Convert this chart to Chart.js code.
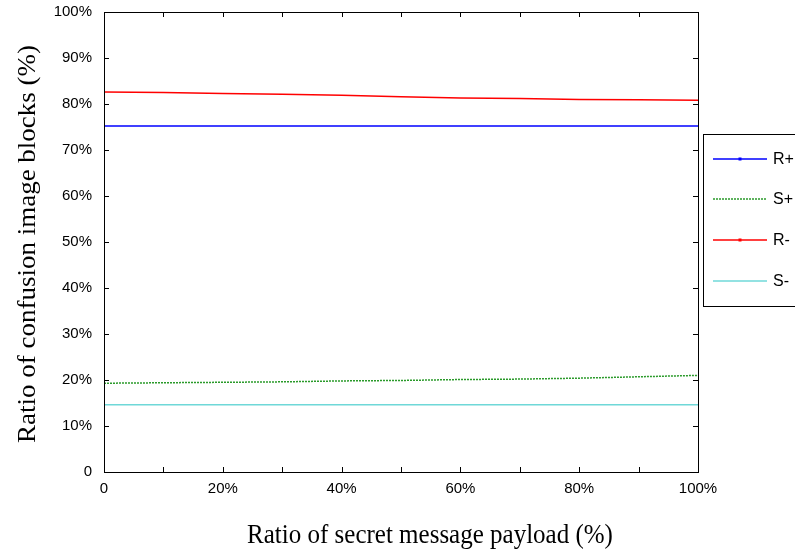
<!DOCTYPE html>
<html>
<head>
<meta charset="utf-8">
<script src="https://cdn.jsdelivr.net/npm/chart.js@4"></script>
<style>
  html, body { margin: 0; padding: 0; background: #fff; }
  #wrap { width: 795px; height: 551px; }
</style>
</head>
<body>
<div id="wrap"><canvas id="chart" width="795" height="551"></canvas></div>
<script>
// x: ratio of secret message payload (%)
var payload = [0, 10, 20, 30, 40, 50, 60, 70, 80, 90, 100];
// y: ratio of confusion image blocks (%)
var rPlus  = [75.2, 75.2, 75.2, 75.2, 75.2, 75.2, 75.2, 75.2, 75.2, 75.2, 75.2];
var sPlus  = [19.3, 19.4, 19.5, 19.6, 19.8, 19.9, 20.1, 20.2, 20.4, 20.7, 21.0];
var rMinus = [82.6, 82.5, 82.3, 82.1, 81.9, 81.6, 81.3, 81.2, 81.0, 80.9, 80.8];
var sMinus = [14.6, 14.6, 14.6, 14.6, 14.6, 14.6, 14.6, 14.6, 14.6, 14.6, 14.6];
var seriesNames = ['R+', 'S+', 'R-', 'S-'];
var seriesColors = ['#0000ff', '#2a9a2a', '#ff0000', '#6fd8d8'];
var xTitle = 'Ratio of secret message payload (%)';
var yTitle = 'Ratio of confusion image blocks (%)';

var tickFont = '"Liberation Sans", Arial, sans-serif';
var serif = '"Liberation Serif", "Times New Roman", serif';

function toPoints(ys) {
    return payload.map(function(x, i) { return { x: x, y: ys[i] }; });
}

// Box around plot area + inward tick marks on all four sides, axis titles
var boxTicks = {
    id: 'boxTicks',
    afterDraw: function(chart) {
        var ctx = chart.ctx;
        var a = chart.chartArea;
        var xs = chart.scales.x, ys = chart.scales.y;
        ctx.save();
        ctx.strokeStyle = '#000';
        ctx.lineWidth = 1;
        ctx.strokeRect(a.left + 0.5, a.top + 0.5, a.right - a.left, a.bottom - a.top);
        ctx.beginPath();
        xs.ticks.forEach(function(t) {
            var px = Math.round(xs.getPixelForValue(t.value)) + 0.5;
            ctx.moveTo(px, a.bottom); ctx.lineTo(px, a.bottom - 5);
            ctx.moveTo(px, a.top); ctx.lineTo(px, a.top + 5);
        });
        ys.ticks.forEach(function(t) {
            var py = Math.round(ys.getPixelForValue(t.value)) + 0.5;
            ctx.moveTo(a.left, py); ctx.lineTo(a.left + 5, py);
            ctx.moveTo(a.right, py); ctx.lineTo(a.right - 5, py);
        });
        ctx.stroke();
        ctx.restore();

        // axis titles (the source figure is slightly stretched vertically)
        ctx.save();
        ctx.fillStyle = '#000';
        ctx.textAlign = 'center';
        ctx.textBaseline = 'alphabetic';
        ctx.font = '25px ' + serif;
        ctx.translate((a.left + a.right) / 2 + 29, 543);
        ctx.scale(1, 1.12);
        ctx.fillText(xTitle, 0, 0);
        ctx.restore();

        ctx.save();
        ctx.fillStyle = '#000';
        ctx.textAlign = 'center';
        ctx.textBaseline = 'alphabetic';
        ctx.font = '25px ' + serif;
        ctx.translate(35, (a.top + a.bottom) / 2 + 2);
        ctx.rotate(-Math.PI / 2);
        ctx.scale(1.08, 1);
        ctx.fillText(yTitle, 0, 0);
        ctx.restore();
    }
};

// MATLAB-style legend box on the right
var sideLegend = {
    id: 'sideLegend',
    afterDraw: function(chart) {
        var ctx = chart.ctx;
        var bx = 703, by = 134, bw = 100, bh = 172;
        ctx.save();
        ctx.fillStyle = '#fff';
        ctx.fillRect(bx, by, bw, bh);
        ctx.strokeStyle = '#000';
        ctx.lineWidth = 1;
        ctx.strokeRect(bx + 0.5, by + 0.5, bw, bh);
        var rowY = [159, 199, 240, 281];
        var dashes = [[], [2, 1], [], []];
        var markers = [true, false, true, false];
        seriesNames.forEach(function(name, i) {
            var y = rowY[i];
            ctx.strokeStyle = seriesColors[i];
            ctx.lineWidth = 1.5;
            ctx.setLineDash(dashes[i]);
            ctx.beginPath();
            ctx.moveTo(713, y); ctx.lineTo(767, y);
            ctx.stroke();
            ctx.setLineDash([]);
            if (markers[i]) {
                ctx.fillStyle = seriesColors[i];
                ctx.fillRect(738.5, y - 1.5, 3, 3);
            }
            ctx.fillStyle = '#000';
            ctx.font = '16px ' + tickFont;
            ctx.textAlign = 'left';
            ctx.textBaseline = 'middle';
            ctx.fillText(name, 773, y + 1);
        });
        ctx.restore();
    }
};

new Chart(document.getElementById('chart'), {
    type: 'line',
    data: {
        datasets: [
            { label: seriesNames[0], data: toPoints(rPlus), borderColor: seriesColors[0] },
            { label: seriesNames[1], data: toPoints(sPlus), borderColor: seriesColors[1], borderDash: [2, 1] },
            { label: seriesNames[2], data: toPoints(rMinus), borderColor: seriesColors[2] },
            { label: seriesNames[3], data: toPoints(sMinus), borderColor: seriesColors[3] }
        ].map(function(d) {
            d.borderWidth = 1.5;
            d.pointRadius = 0;
            d.fill = false;
            d.tension = 0;
            return d;
        })
    },
    options: {
        responsive: false,
        animation: false,
        layout: { padding: { left: 0, right: 97, top: 12, bottom: 0 } },
        plugins: { legend: { display: false }, tooltip: { enabled: false } },
        scales: {
            x: {
                type: 'linear',
                min: 0, max: 100,
                grid: { display: false, drawTicks: false },
                border: { display: false },
                afterFit: function(s) { s.height = 79; s.paddingLeft = 0; s.paddingRight = 0; },
                ticks: {
                    stepSize: 10,
                    autoSkip: false,
                    maxRotation: 0,
                    padding: 8,
                    color: '#000',
                    font: { family: tickFont, size: 15 },
                    callback: function(v) {
                        if (v === 0) return '0';
                        return v % 20 === 0 ? v + '%' : '';
                    }
                }
            },
            y: {
                min: 0, max: 100,
                grid: { display: false, drawTicks: false },
                border: { display: false },
                afterFit: function(s) { s.width = 104; s.paddingTop = 0; s.paddingBottom = 0; },
                ticks: {
                    stepSize: 10,
                    padding: 12,
                    color: '#000',
                    font: { family: tickFont, size: 15 },
                    callback: function(v) { return v === 0 ? '0' : v + '%'; }
                }
            }
        }
    },
    plugins: [boxTicks, sideLegend]
});
</script>
</body>
</html>
